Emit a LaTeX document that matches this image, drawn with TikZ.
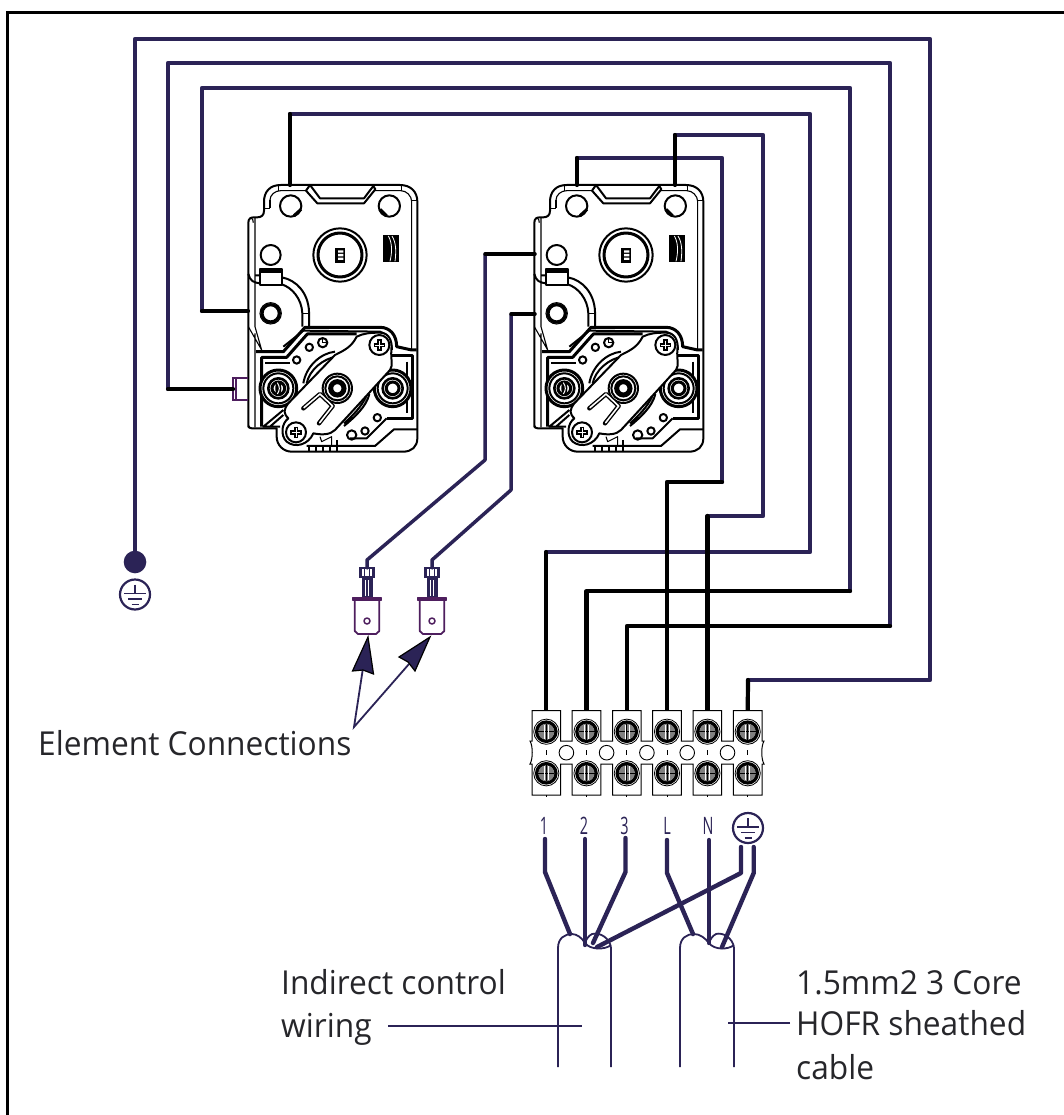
\documentclass[tikz,border=0pt]{standalone}
\usepackage{fontspec}
\setmainfont{Open Sans}
\definecolor{navy}{HTML}{2B2356}
\definecolor{plum}{HTML}{4E1E5E}
\definecolor{ink}{HTML}{26262A}
\tikzset{
  nw/.style={navy,line width=4.2pt,line cap=round,line join=round},
  bw/.style={black,line width=4.2pt,line cap=round,line join=round},
  nthin/.style={navy,line width=3.5pt,line cap=round,line join=round},
  bthin/.style={black,line width=3.5pt,line cap=round,line join=round},
  cablew/.style={navy,line width=1.8pt},
  lbl/.style={ink,font=\fontsize{33}{33}\selectfont,inner sep=0pt,anchor=base west,xscale=.96},
  tlbl/.style={navy,font=\fontsize{24}{24}\selectfont,inner sep=0pt,xscale=.6},
  tn/.style={black,line width=1.1pt,line join=round},
  tk/.style={black,line width=2pt,line join=round},
  tvk/.style={black,line width=3pt,line join=round},
  crimp/.style={plum,line width=1.8pt,line join=round},
  arrowfill/.style={fill=navy,draw=black,line width=1.2pt,line join=miter},
}
% thermostat, local coordinates: 3 units per reference pixel
\newcommand{\thermostat}[1]{%
\begin{scope}[shift={(#1,170)},x=.33333pt,y=-.33333pt]
  % casing outer
  \draw[tk] (85,772) -- (85,158) .. controls (85,146) and (92,142) .. (102,142) -- (112,142)
     .. controls (125,142) and (132,135) .. (132,122) -- (132,95)
     .. controls (132,65) and (150,45) .. (182,45) -- (540,45)
     .. controls (572,45) and (592,65) .. (592,95) -- (592,805)
     .. controls (592,830) and (575,845) .. (550,845) -- (215,845)
     .. controls (190,845) and (170,825) .. (170,800) -- (170,775) -- (95,775) .. controls (88,775) and (85,772) .. (85,765);
  % casing inner
  \draw[tn] (105,143) -- (105,470) (105,490) -- (105,772) (85,470) -- (125,540)(105,470) -- (125,540);
  \draw[tn] (90,142) .. controls (98,145) and (100,150) .. (100,158);
  \draw[tn] (150,90) .. controls (150,75) and (165,62) .. (182,62) -- (258,62);
  \draw[tn] (132,115) -- (150,115) (150,90) -- (150,115);
  \draw[tn] (176,45) -- (176,62) (545,45) -- (545,62);
  \draw[tn] (465,62) -- (542,62) .. controls (560,62) and (575,78) .. (575,95) -- (575,540);
  \draw[tn] (575,92) -- (592,92);
  % top chamfer
  \draw[tk,fill=white] (258,62) -- (270,45) -- (300,85) -- (432,85) -- (460,48) -- (466,58) -- (432,100) -- (292,100) -- cycle;
  % holes
  \draw[tk] (212,108) circle (32) (508,108) circle (32);
  \draw[tvk] (222,137) -- (243,118) (480,118) -- (500,138);
  % knob
  \draw[tk] (360,255) circle (80);
  \draw[tvk] (360,255) circle (66);
  \fill[black] (344,234) rectangle (376,278);
  \fill[white] (354,241) rectangle (370,248) (354,252) rectangle (370,259) (354,263) rectangle (370,270);
  % black marking
  \fill[black] (488,195) rectangle (537,276);
  \draw[white,line width=.8pt] (505,198) .. controls (518,220) and (516,250) .. (510,274) (516,198) .. controls (530,220) and (528,250) .. (525,274);
  % left circles
  \draw[tk] (152,255) circle (30);
  \draw[line width=3.2pt] (152,430) circle (26);
  \draw[tn] (152,430) circle (32);
  % tab and arc
  \draw[tk] (85,312) .. controls (90,332) and (100,338) .. (120,340) (105,316) -- (120,316);
  \fill[black] (120,298) rectangle (185,310);
  \draw[tk] (120,298) rectangle (185,345);
  \draw[tk] (185,322) .. controls (230,330) and (265,370) .. (267,425) -- (267,470);
  \draw[tk] (185,343) .. controls (215,352) and (245,385) .. (247,430) -- (247,470);
  \draw[tn] (247,430) -- (267,430);
  % lower plate
  \draw[tvk] (108,545) -- (190,545) -- (255,472) -- (480,472) .. controls (510,472) and (530,495) .. (530,530) -- (575,540) -- (590,540);
  \draw[tk] (190,530) -- (250,482) -- (480,485) .. controls (500,490) and (515,510) .. (516,540);
  \draw[tvk] (125,770) -- (125,562) -- (200,562) -- (262,492) -- (410,492);
  \draw[tk] (135,578) -- (210,578);
  \draw[tvk] (515,558) -- (578,558) -- (578,745) -- (500,745);
  \draw[tk] (560,575) -- (560,730);
  \draw[tk] (592,778) -- (522,778) -- (465,828) -- (260,828) (500,745) -- (440,805) -- (390,805);
  \draw[tk] (180,770) -- (130,770) -- (190,720) (150,770) -- (190,735);
  % slots behind plate
  \draw[tk] (250,640) .. controls (258,590) and (300,550) .. (345,545);
  \draw[tk] (260,640) .. controls (268,600) and (310,565) .. (350,560);
  % terminal screws
  \foreach \c in {175,518}{
    \draw[tvk,fill=white] (\c,655) circle (55);
    \draw[tk] (\c,655) circle (45);
    \draw[line width=2.6pt] (\c,655) circle (30);
    \draw[line width=3pt] (\c,655) circle (19);
  }
  \fill[black] (175,655) ellipse (9 and 22);
  \draw[white,line width=1pt] (172,638) .. controls (180,650) and (180,660) .. (172,672);
  % rocker
  \draw[tk,fill=white] (410,500) .. controls (430,490) and (450,488) .. (480,488)
     .. controls (505,488) and (518,510) .. (514,540) .. controls (512,570) and (520,585) .. (510,600)
     -- (405,715) -- (345,780) .. controls (330,795) and (305,795) .. (280,790)
     .. controls (265,825) and (225,835) .. (200,815) .. controls (180,795) and (185,760) .. (205,745)
     .. controls (190,730) and (190,720) .. (205,700) -- (345,555)
     .. controls (375,540) and (395,530) .. (410,500) -- cycle;
  % centre
  \draw[tk] (352,655) circle (44);
  \draw[tk] (352,655) circle (36);
  \draw[line width=5pt] (352,655) circle (20);
  % key slot
  \draw[line width=4.4pt,line cap=round,line join=round] (250,715) -- (300,672) -- (338,708) -- (297,760);
  \draw[white,line width=1.6pt,line cap=round,line join=round] (252,713) -- (300,672) -- (338,708) -- (299,758);
  % small arc
  \draw[tk] (372,768) .. controls (400,745) and (440,710) .. (448,672) (372,760) .. controls (395,740) and (425,710) .. (438,680);
  % small circles
  \draw[tk] (230,570) circle (11) (268,532) circle (11) (308,518) circle (14);
  \draw[tn] (308,518) -- (308,505) (308,518) -- (320,518);
  \draw[tk] (472,743) circle (11) (435,783) circle (11) (395,795) circle (14);
  % rocker screws
  \foreach \a/\b in {478/525,228/787}{
    \draw[tk,fill=white] (\a,\b) circle (30);
    \draw[black,line width=4.4pt] (\a-17,\b) -- (\a+17,\b) (\a,\b-17) -- (\a,\b+17);
    \draw[white,line width=.9pt] (\a-13,\b) -- (\a+13,\b) (\a,\b-13) -- (\a,\b+13);
  }
  % bottom details
  \draw[tn] (300,800) -- (305,815) -- (335,800) -- (335,828);
  \draw[tk] (268,828) -- (268,845) (288,828) -- (288,845) (308,828) -- (308,845) (330,828) -- (330,845) (350,810) -- (350,845);
\end{scope}}
% crimp terminal
\newcommand{\crimpterm}[1]{%
  \begin{scope}[shift={(#1,0)}]
    \fill[navy] (-5.5,577) rectangle (5.5,597);
    \draw[white,line width=.5pt] (-1.7,580) -- (-1.7,596) (1.7,580) -- (1.7,596);
    \draw[navy,line width=2.2pt] (-6.5,568) rectangle (6.5,577);
    \draw[navy,line width=1.2pt] (-2.5,568) -- (-2.5,577) (2.5,568) -- (2.5,577);
    \draw[crimp,fill=white] (-14.5,598) rectangle (14.5,600);
    \draw[crimp] (-12.3,600) -- (-12.3,631) -- (-9,634) -- (9,634) -- (12.3,631) -- (12.3,600);
    \draw[crimp,line width=1.5pt] (0,621) circle (3);
  \end{scope}}
% protective earth symbol
\newcommand{\earthsym}[2]{%
  \begin{scope}[shift={(#1,#2)}]
    \draw[navy,line width=2.2pt] (0,0) circle (15);
    \draw[navy,line width=1.8pt] (0,-10) -- (0,-1) (-11,-1) -- (11,-1) (-7,4.5) -- (7,4.5) (-3.5,10) -- (3.5,10);
  \end{scope}}
\begin{document}
\begin{tikzpicture}[x=1pt,y=-1pt]
\useasboundingbox (0,0) rectangle (1064,1115);
\fill[white] (0,0) rectangle (1064,1115);
% frame (only top and left are on the sheet)
\draw[black,line width=3pt] (7.5,1115) -- (7.5,12.5) -- (1064,12.5);

\thermostat{220}
\thermostat{506}

% purple stub on first thermostat
\draw[plum,line width=1.3pt] (248,378) -- (233,378) -- (233,400) -- (248,400) (236,378) -- (236,400);

% named ends
\coordinate (dot) at (135,562);
\coordinate (stub) at (233,389);
\coordinate (tAw) at (248,311);
\coordinate (tAt) at (290,185);
\coordinate (tBa) at (577,185);
\coordinate (tBb) at (675,185);
\coordinate (tBl) at (535,254);
\coordinate (tBm) at (535,314);
\foreach \n/\x in {1/546.3,2/586.5,3/626.8,4/667,5/707.4,6/747.7}{
  \coordinate (s\n) at (\x,711);
}
\coordinate (c1) at (367,568);
\coordinate (c2) at (432,568);

% wires: coloured runs
\draw[nw] (dot) -- (135,39) -- (930,39) -- (930,680) -- (748,680);
\draw[bw] (748,680) -- (s6);
\draw[nw] (168,389) -- (168,63) -- (890,63) -- (890,626);
\draw[bw] (stub) -- (168,389);
\draw[bw] (890,626) -- (626.8,626) -- (s3);
\draw[nw] (202,311) -- (202,88) -- (850,88) -- (850,591);
\draw[bw] (tAw) -- (202,311);
\draw[bw] (850,591) -- (586.5,591) -- (s2);
\draw[nw] (290,114) -- (810,114) -- (810,552) -- (546.3,552);
\draw[bw] (tAt) -- (290,114);
\draw[bw] (546.3,552) -- (s1);
\draw[nw] (577,158) -- (722,158) -- (722,482);
\draw[bw] (tBa) -- (577,158);
\draw[bw] (722,482) -- (667,482) -- (s4);
\draw[nw] (675,135) -- (763,135) -- (763,516) -- (707.4,516);
\draw[bw] (tBb) -- (675,135);
\draw[bw] (707.4,516) -- (s5);

% earth dot
\fill[navy] (dot) circle (11.3);
\earthsym{135}{594.5}

% element wires
\draw[nthin] (485,254) -- (485,460) -- (367,560) -- (c1);
\draw[bthin] (tBl) -- (485,254);
\draw[nthin] (511,314) -- (511,490) -- (432,560) -- (c2);
\draw[bthin] (tBm) -- (511,314);
\crimpterm{367}
\crimpterm{432}

% element arrows
\coordinate (apex) at (354,727);
\coordinate (a1) at (368,637);
\coordinate (a2) at (430,637);
\draw[navy,line width=1.8pt] (363,668) -- (apex) -- (409,664);
\draw[arrowfill] (a1) -- (373.5,674) -- (363,670) -- (352.5,671) -- cycle;
\draw[arrowfill] (a2) -- (415,671) -- (408,662) -- (399,657) -- cycle;

% terminal block
\begin{scope}
  \draw[black,line width=1pt,fill=white] (530,741)
    \foreach \x in {546.3,586.5,626.8,667,707.4,747.7}{ -- (\x-14.3,741) -- (\x-14.3,710.7) -- (\x+14.3,710.7) -- (\x+14.3,741) }
    -- (764,741) .. controls (761,746) and (761,759) .. (764,764)
    \foreach \x in {747.7,707.4,667,626.8,586.5,546.3}{ -- (\x+14.3,764) -- (\x+14.3,795) -- (\x-14.3,795) -- (\x-14.3,764) }
    -- (530,764) .. controls (533,759) and (533,746) .. (530,741) -- cycle;
  \foreach \x in {546.3,586.5,626.8,667,707.4,747.7}{
    \foreach \y in {731.7,773.3}{
      \draw[black,line width=.8pt] (\x,\y) circle (12.6);
      \draw[black,line width=3.4pt] (\x,\y) circle (9.6);
      \fill[gray] (\x,\y) circle (8);
      \draw[black,line width=1pt] (\x-8,\y) -- (\x+8,\y) (\x,\y-8) -- (\x,\y+8);
      \draw[white,line width=.5pt] (\x-2,\y-7) -- (\x-2,\y+7) (\x+2,\y-7) -- (\x+2,\y+7);
    }
    \draw[black,line width=.7pt] (\x,750) -- (\x,754.5) (\x,795) -- (\x,797);
  }
  \foreach \x in {566.4,606.6,646.9,687.2,727.5}{
    \draw[black,line width=.9pt,fill=white] (\x,752.7) circle (7.3);
  }
\end{scope}

% terminal labels
\node[tlbl] (l1) at (544,825.5) {1};
\node[tlbl] (l2) at (584,825.5) {2};
\node[tlbl] (l3) at (624.5,825.5) {3};
\node[tlbl] (l4) at (667,825.5) {L};
\node[tlbl] (l5) at (708,825.5) {N};
\earthsym{748}{828}

% cables
\draw[cablew] (558,1067) -- (558,948) .. controls (558,938) and (565,934) .. (572,934) .. controls (577,934) and (582,938) .. (585,943);
\draw[cablew] (611,1067) -- (611,948) .. controls (610,938) and (600,932) .. (592,934) .. controls (588,936) and (586,940) .. (585,943);
\draw[cablew] (585,943) .. controls (590,950) and (605,950) .. (611,945);
\draw[cablew] (680,1067) -- (680,948) .. controls (680,938) and (687,934) .. (694,934) .. controls (700,934) and (705,938) .. (709,943);
\draw[cablew] (734,1067) -- (734,948) .. controls (733,938) and (723,932) .. (716,934) .. controls (712,936) and (710,940) .. (709,943);
\draw[cablew] (709,943) .. controls (714,950) and (728,950) .. (734,945);

% lower wires
\tikzset{lowire/.style={navy,line width=4.4pt,line join=round,line cap=round}}
\draw[lowire] (545,839) -- (545,872) -- (570,934);
\draw[lowire] (585,839) -- (585,945);
\draw[lowire] (625.5,838) -- (625.5,872) -- (593,943);
\draw[lowire] (667,840) -- (667,873) -- (693,934);
\draw[lowire] (709,840) -- (709,943);
\draw[lowire] (753.7,847) -- (753.7,873) -- (722,947);
\draw[lowire] (741,847) -- (741,873) -- (597,947);

% leaders and texts
\coordinate (la) at (388,1026);
\coordinate (lb) at (582,1026);
\coordinate (lc) at (790,1023);
\coordinate (ld) at (728,1023);
\draw[cablew] (la) -- (lb);
\draw[cablew] (lc) -- (ld);
\node[lbl] (t1) at (38,755) {Element Connections};
\node[lbl] (t2) at (281,994) {Indirect control};
\node[lbl] (t3) at (281,1037) {wiring};
\node[lbl] (t4) at (796,994) {1.5mm2 3 Core};
\node[lbl] (t5) at (796,1035) {HOFR sheathed};
\node[lbl] (t6) at (796,1079) {cable};
\end{tikzpicture}
\end{document}
